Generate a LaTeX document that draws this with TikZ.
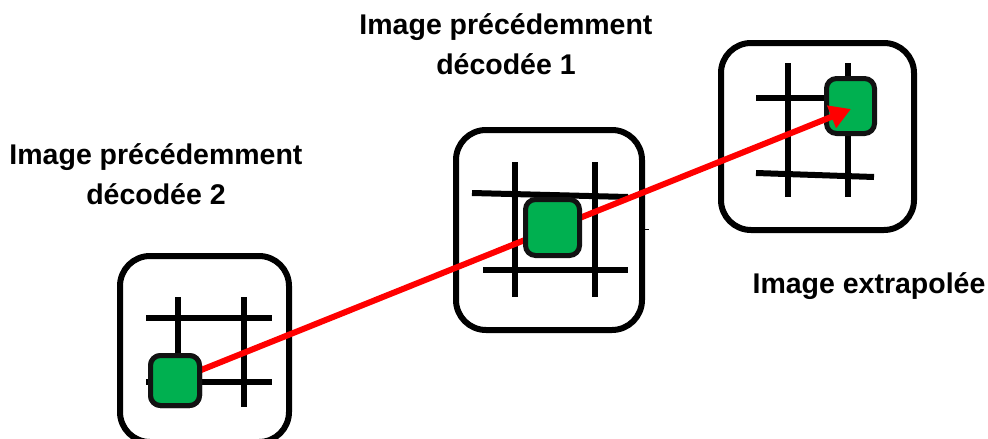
\documentclass[tikz,border=0pt]{standalone}
\usepackage{fontspec}
\setmainfont{Liberation Sans}
\usetikzlibrary{arrows.meta}
\definecolor{cellgreen}{RGB}{0,176,80}
\definecolor{motionred}{RGB}{255,0,0}
\tikzset{
  frame/.style={draw=black, line width=6pt, rounded corners=30pt, fill=white, inner sep=0pt},
  gridline/.style={draw=black, line width=6pt},
  cell/.style={draw=black!93, line width=5pt, rounded corners=10pt, fill=cellgreen, inner sep=0pt},
  motion/.style={draw=motionred, line width=6pt, -{Triangle[length=21pt,width=23pt]}},
  caption/.style={font=\bfseries\fontsize{28.5}{39.5}\selectfont, align=center, inner sep=0pt}
}
\begin{document}
\begin{tikzpicture}[x=1pt,y=-1pt]
\useasboundingbox (0,0) rectangle (988,439);
\clip (0,0) rectangle (988,439);

% frames
\node[frame, minimum width=169pt, minimum height=186pt] (f1) at (204.5,349) {};
\node[frame, minimum width=186pt, minimum height=200pt] (f2) at (549,230) {};
\node[frame, minimum width=193pt, minimum height=187pt] (f3) at (817.5,136.5) {};

% grid of the second decoded image
\draw[gridline] (178,297) -- (178,380);
\draw[gridline] (244,297) -- (244,407);
\draw[gridline] (146,318) -- (272,318);
\draw[gridline] (146,382) -- (272,382);

% grid of the first decoded image
\draw[gridline] (515,162) -- (515,297);
\draw[gridline] (595,162) -- (595,297);
\draw[gridline] (472,193) -- (628,197);
\draw[gridline] (483,270) -- (628,270);
\draw[line width=1pt] (645,229) -- (649,229);

% grid of the extrapolated image
\draw[gridline] (788,63) -- (788,197);
\draw[gridline] (848,63) -- (848,197);
\draw[gridline] (756,98) -- (830,98);
\draw[gridline] (756,173) -- (874,177);

% block in the extrapolated image
\node[cell, minimum width=48pt, minimum height=55pt] (c3) at (850.5,106) {};
\coordinate (tip) at (851,109);

% block in the second decoded image (start of the trajectory)
\node[cell, minimum width=49pt, minimum height=50pt] (c1) at (175,380.5) {};

% motion trajectory
\draw[motion] (c1.center) -- (tip);

% redraw the start block over the trajectory
\node[cell, minimum width=49pt, minimum height=50pt] at (c1.center) {};

% block in the first decoded image
\node[cell, minimum width=54pt, minimum height=56pt] (c2) at (552.5,227.5) {};

% captions (base anchor sits on the last line)
\node[caption, anchor=base] (t2) at (156,204) {Image précédemment\\décodée 2};
\node[caption, anchor=base] (t1) at (506,74) {Image précédemment\\décodée 1};
\node[caption, anchor=base] (t3) at (869,293) {Image extrapolée};
\end{tikzpicture}
\end{document}
